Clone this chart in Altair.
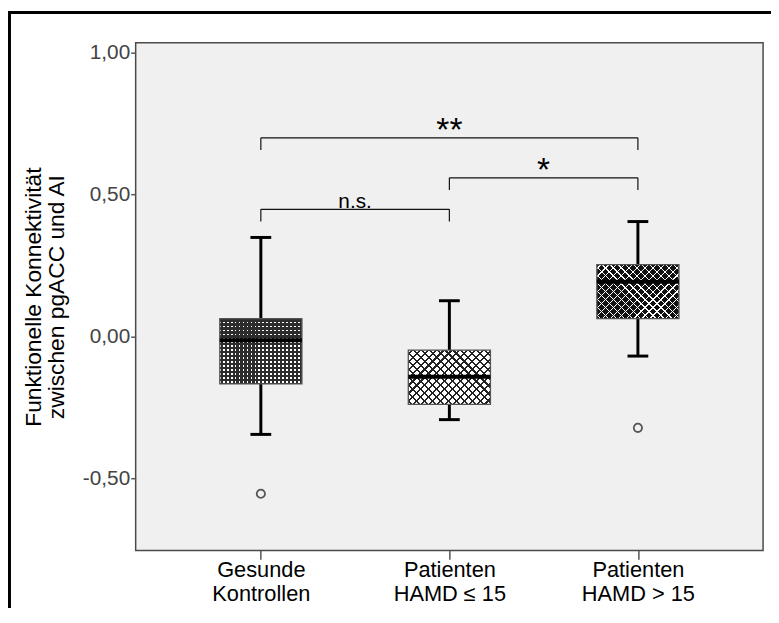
import math
import json
import altair as alt
import pandas as pd

# ---------------- data ----------------
groups = ["Gesunde Kontrollen", "Patienten HAMD ≤ 15", "Patienten HAMD > 15"]
whisker_low = [-0.345, -0.293, -0.069]
q1 = [-0.167, -0.239, 0.063]
median = [-0.013, -0.142, 0.193]
q3 = [0.063, -0.048, 0.253]
whisker_high = [0.349, 0.126, 0.405]

outlier_group = ["Gesunde Kontrollen", "Patienten HAMD > 15"]
outlier_value = [-0.554, -0.322]

cmp_from = ["Gesunde Kontrollen", "Patienten HAMD ≤ 15", "Gesunde Kontrollen"]
cmp_to = ["Patienten HAMD > 15", "Patienten HAMD > 15", "Patienten HAMD ≤ 15"]
cmp_level = [0.700, 0.559, 0.448]
cmp_label = ["**", "*", "n.s."]

y_ticks = [-0.5, 0.0, 0.5, 1.0]
y_title = ["Funktionelle Konnektivität", "zwischen pgACC und AI"]

# ---------------- layout / style ----------------
W, H = 634, 513
Y_DOM = [-0.754, 1.035]
X_DOM = [-0.664, 2.664]
PX_PER_UNIT = H / (Y_DOM[1] - Y_DOM[0])
BOX_W = 83
DROP = 0.043
FONT = "Liberation Sans"

# hatch style per box: base colour, line colour, period (px), line width (px), kind
hatch_style = [
    ("#ffffff", "#2c2c2c", 4.0, 2.25, "ortho"),
    ("#ffffff", "#222222", 4 * math.sqrt(2), 1.5, "diag"),
    ("#111111", "#ffffff", 4 * math.sqrt(2), 0.9, "diag"),
]

pos_of = {g: i for i, g in enumerate(groups)}
box_df = pd.DataFrame({
    "group": groups, "pos": list(range(len(groups))),
    "low": whisker_low, "q1": q1, "median": median, "q3": q3, "high": whisker_high,
    "base": [s[0] for s in hatch_style],
})
cap_df = pd.concat([
    box_df[["pos", "low"]].rename(columns={"low": "v"}),
    box_df[["pos", "high"]].rename(columns={"high": "v"}),
])
out_df = pd.DataFrame({"pos": [pos_of[g] for g in outlier_group], "v": outlier_value})
cmp_df = pd.DataFrame({
    "x1": [pos_of[g] for g in cmp_from], "x2": [pos_of[g] for g in cmp_to],
    "level": cmp_level, "label": cmp_label,
})
cmp_df["mid"] = (cmp_df["x1"] + cmp_df["x2"]) / 2
cmp_df["foot"] = cmp_df["level"] - DROP
foot_df = pd.concat([
    cmp_df[["x1", "level", "foot"]].rename(columns={"x1": "x"}),
    cmp_df[["x2", "level", "foot"]].rename(columns={"x2": "x"}),
])

xs = alt.Scale(domain=X_DOM, nice=False, zero=False, padding=0)
ys = alt.Scale(domain=Y_DOM, nice=False, zero=False, padding=0)

label_parts = [g.split(" ", 1) for g in groups]
x_label_expr = ""
for i, parts in enumerate(label_parts[:-1]):
    x_label_expr += f"datum.value == {i} ? {json.dumps(parts, ensure_ascii=False)} : "
x_label_expr += json.dumps(label_parts[-1], ensure_ascii=False)

x_axis = alt.Axis(
    values=list(range(len(groups))), labelExpr=x_label_expr, tickSize=9,
    tickColor="#555555", tickWidth=1.5, labelFontSize=22, labelColor="black",
    labelPadding=0, labelLineHeight=25, labelBaseline="top", labelAngle=0,
    labelFlush=False, labelOverlap=False, title=None, domain=False, grid=False,
)
y_axis = alt.Axis(
    values=y_ticks,
    labelExpr="replace(replace(format(datum.value, '.2f'), '.', ','), '\u2212', '-')",
    tickSize=5, tickColor="#555555", tickWidth=1.5, labelFontSize=21,
    labelColor="#444444", labelPadding=1, labelFlush=False, labelOverlap=False,
    title=y_title, titleFontSize=23, titleFontWeight="normal", titleColor="black",
    titleX=-91, titleY=H / 2, titleAngle=270, titleAlign="center",
    titleBaseline="bottom", titleLineHeight=23, domain=False, grid=False,
)


def X(field):
    return alt.X(field, type="quantitative", scale=xs, axis=x_axis)


def Y(field):
    return alt.Y(field, type="quantitative", scale=ys, axis=y_axis)


def stripe_stops(L, period, lw, color):
    clear = "rgba(255,255,255,0)"
    half = lw / 2 / L
    stops = []
    k = 0
    while True:
        c = (k + 0.5) * period / L
        a, b = c - half, c + half
        if a > 1:
            break
        a, b = max(0.0, a), min(1.0, b)
        stops.append({"offset": a, "color": clear})
        stops.append({"offset": a, "color": color})
        stops.append({"offset": b, "color": color})
        stops.append({"offset": b, "color": clear})
        k += 1
    return stops


def hatch(w_px, h_px, period, lw, color, kind, second):
    if kind == "ortho":
        if second:
            return {"gradient": "linear", "x1": 0, "y1": 0, "x2": 0, "y2": 1,
                    "stops": stripe_stops(h_px, period, lw, color)}
        return {"gradient": "linear", "x1": 0, "y1": 0, "x2": 1, "y2": 0,
                "stops": stripe_stops(w_px, period, lw, color)}
    L = (w_px + h_px) / math.sqrt(2)
    s = (w_px + h_px) / (w_px ** 2 + h_px ** 2)
    gx, gy = w_px * s, h_px * s
    stops = stripe_stops(L, period, lw, color)
    if second:
        return {"gradient": "linear", "x1": 0, "y1": 1, "x2": gx, "y2": 1 - gy, "stops": stops}
    return {"gradient": "linear", "x1": 0, "y1": 0, "x2": gx, "y2": gy, "stops": stops}


base = alt.Chart(box_df)

whiskers = base.mark_rule(color="black", strokeWidth=3).encode(
    x=X("pos"), y=Y("low"), y2="high:Q",
)
box_fill = base.mark_bar(size=BOX_W).encode(
    x=X("pos"), y=Y("q1"), y2="q3:Q",
    fill=alt.Fill("base:N", scale=None),
)
hatch_layers = []
for i, g in enumerate(groups):
    h_px = (q3[i] - q1[i]) * PX_PER_UNIT
    _, line_col, period, lw, kind = hatch_style[i]
    for second in (False, True):
        hatch_layers.append(
            base.transform_filter(alt.datum.pos == i)
            .mark_bar(size=BOX_W, fill=hatch(BOX_W, h_px, period, lw, line_col, kind, second))
            .encode(x=X("pos"), y=Y("q1"), y2="q3:Q")
        )
box_border = base.mark_bar(size=BOX_W, fill="transparent", stroke="#555555", strokeWidth=1.3).encode(
    x=X("pos"), y=Y("q1"), y2="q3:Q",
)
medians = base.mark_tick(orient="horizontal", size=BOX_W, thickness=4, color="black", opacity=1).encode(
    x=X("pos"), y=Y("median"),
)
caps = alt.Chart(cap_df).mark_tick(orient="horizontal", size=21, thickness=3, color="black", opacity=1).encode(
    x=X("pos"), y=Y("v"),
)
outliers = alt.Chart(out_df).mark_point(
    shape="circle", filled=False, size=70, stroke="#555555", strokeWidth=1.8, opacity=1
).encode(
    x=X("pos"), y=Y("v"),
)
bracket_h = alt.Chart(cmp_df).mark_rule(color="#111111", strokeWidth=1.2).encode(
    x=X("x1"), x2="x2:Q", y=Y("level"),
)
bracket_v = alt.Chart(foot_df).mark_rule(color="#111111", strokeWidth=1.2).encode(
    x=X("x"), y=Y("level"), y2="foot:Q",
)
stars = alt.Chart(cmp_df).transform_filter("test(/^[*]+$/, datum.label)").mark_text(
    font=FONT, fontSize=34, baseline="alphabetic", align="center", dy=3, color="black"
).encode(
    x=X("mid"), y=Y("level"), text="label:N",
)
plain = alt.Chart(cmp_df).transform_filter("!test(/^[*]+$/, datum.label)").mark_text(
    font=FONT, fontSize=21, baseline="alphabetic", align="center", dy=-1.5, color="black"
).encode(
    x=X("mid"), y=Y("level"), text="label:N",
)
frame = alt.Chart(alt.Data(values=[{"f": 1}])).mark_rect(
    fill="transparent", stroke="black", strokeWidth=3
).encode(
    x=alt.value(-127.5), x2=alt.value(W + 40),
    y=alt.value(-30.5), y2=alt.value(H + 120),
)

chart = alt.layer(
    whiskers, box_fill, *hatch_layers, box_border, medians, caps, outliers,
    bracket_h, bracket_v, stars, plain, frame,
).properties(
    width=W, height=H,
    autosize=alt.AutoSizeParams(type="none"),
    padding={"left": 129, "top": 32, "right": 8, "bottom": 55},
).configure_view(
    fill="#f0f0f0", stroke="#4a4a4a", strokeWidth=1.5
).configure_axis(
    labelFont=FONT, titleFont=FONT
)

chart.save("out.html", embed_options={"renderer": "svg", "actions": False})
